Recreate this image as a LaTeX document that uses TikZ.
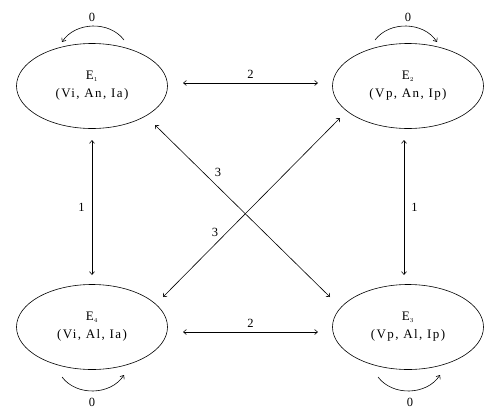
\documentclass[tikz,border=0pt]{standalone}
\usepackage{fontspec}
\setmainfont{Liberation Serif}
\newfontfamily\lsfont[LetterSpace=11]{Liberation Serif}
\usetikzlibrary{shapes.geometric,arrows.meta}
\begin{document}
\begin{tikzpicture}[x=1pt,y=-1pt,
  state/.style={ellipse,draw,line width=0.6pt,minimum width=151pt,minimum height=85pt,inner sep=0pt,align=center,font=\lsfont\fontsize{13}{18}\selectfont},
  conn/.style={line width=0.6pt,{Straight Barb[length=3pt,width=5pt]}-{Straight Barb[length=3pt,width=5pt]}},
  loop/.style={line width=0.6pt,-{Straight Barb[length=3pt,width=5pt]}},
  lab/.style={font=\fontsize{12.5}{14}\selectfont,inner sep=1pt}]
\useasboundingbox (0,0) rectangle (500,415);
\node[state] (e1) at (92,86) {E$_{\scriptscriptstyle 1}$\\(Vi, An, Ia)};
\node[state] (e2) at (408,86) {E$_{\scriptscriptstyle 2}$\\(Vp, An, Ip)};
\node[state] (e4) at (92,327) {E$_{\scriptscriptstyle 4}$\\(Vi, Al, Ia)};
\node[state] (e3) at (408,327) {E$_{\scriptscriptstyle 3}$\\(Vp, Al, Ip)};
% horizontal
\draw[conn] ([shift={(91,-3)}]e1.center) -- ([shift={(-90,-3)}]e2.center) node[lab,midway,above=3pt] (l12) {2};
\draw[conn] ([shift={(91,5)}]e4.center) -- ([shift={(-90,5)}]e3.center) node[lab,midway,above=3pt] (l43) {2};
% vertical
\draw[conn] ([shift={(0,54)}]e1.center) -- ([shift={(0,-52)}]e4.center) node[lab,midway,left=6pt] (l14) {1};
\draw[conn] ([shift={(-4,54)}]e2.center) -- ([shift={(-4,-52)}]e3.center) node[lab,midway,right=6pt] (l23) {1};
% diagonals
\draw[conn] ([shift={(63,39)}]e1.center) -- ([shift={(-78,-30)}]e3.center);
\draw[conn] ([shift={(-68,32)}]e2.center) -- ([shift={(71,-30)}]e4.center);
\node[lab] (l13) at (218,172) {3};
\node[lab] (l24) at (215,232) {3};
% self loops
\draw[loop] ([shift={(32,-46)}]e1.center) to[bend right=55] ([shift={(-30,-44)}]e1.center);
\node[lab] (l11) at (92,17) {0};
\draw[loop] ([shift={(-33,-46)}]e2.center) to[bend left=55] ([shift={(29,-44)}]e2.center);
\node[lab] (l22) at (408,17) {0};
\draw[loop] ([shift={(-30,50)}]e4.center) to[bend right=55] ([shift={(32,48)}]e4.center);
\node[lab] (l44) at (92,402) {0};
\draw[loop] ([shift={(-30,50)}]e3.center) to[bend right=55] ([shift={(32,48)}]e3.center);
\node[lab] (l33) at (410,402) {0};
\end{tikzpicture}
\end{document}
